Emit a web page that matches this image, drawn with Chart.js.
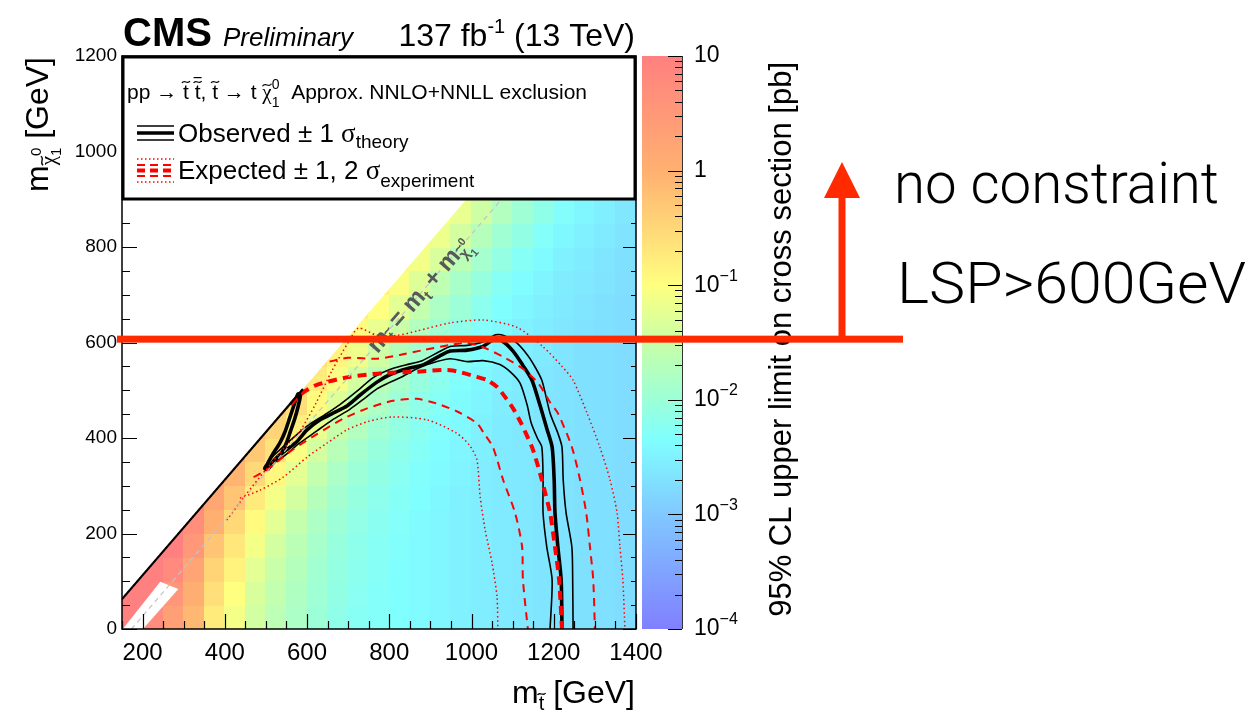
<!DOCTYPE html>
<html><head><meta charset="utf-8">
<script src="https://cdn.jsdelivr.net/npm/chart.js@4.4.1/dist/chart.umd.min.js"></script>
<style>html,body{margin:0;padding:0;background:#fff;overflow:hidden}canvas{display:block}</style>
</head><body><canvas id="c" width="1253" height="716"></canvas>
<script>
// ---------------- data (GeV, pb) ----------------
const xTicks = [200, 400, 600, 800, 1000, 1200, 1400];
const yTicks = [0, 200, 400, 600, 800, 1000, 1200];
const zDecades = [-4, -3, -2, -1, 0, 1];
const N = null;
// 95% CL upper limit, log10(pb), 50 GeV bins: rows = m_LSP 0..900, cols = m_stop 150..1400
const limitGridLog10 = [
 [1.0,0.75,0.35,-0.1,-0.75,-1.1,-1.42,-1.63,-1.82,-2.0,-2.15,-2.25,-2.3,-2.35,-2.4,-2.45,-2.5,-2.55,-2.6,-2.62,-2.65,-2.68,-2.7,-2.72,-2.75],
 [1.0,1.0,0.55,0.05,-0.6,-1.0,-1.35,-1.57,-1.78,-1.97,-2.12,-2.23,-2.3,-2.35,-2.4,-2.45,-2.5,-2.55,-2.6,-2.62,-2.65,-2.68,-2.7,-2.72,-2.75],
 [1.0,1.0,0.8,0.25,-0.45,-0.85,-1.25,-1.5,-1.72,-1.93,-2.09,-2.2,-2.28,-2.35,-2.4,-2.45,-2.5,-2.55,-2.6,-2.62,-2.65,-2.68,-2.7,-2.72,-2.75],
 [N,1.0,1.0,0.5,-0.25,-0.7,-1.1,-1.4,-1.65,-1.87,-2.05,-2.17,-2.25,-2.33,-2.4,-2.45,-2.5,-2.55,-2.6,-2.62,-2.65,-2.68,-2.7,-2.72,-2.75],
 [N,N,1.0,0.7,0.0,-0.5,-0.95,-1.25,-1.55,-1.8,-1.99,-2.13,-2.22,-2.3,-2.38,-2.45,-2.5,-2.55,-2.6,-2.62,-2.65,-2.68,-2.7,-2.72,-2.75],
 [N,N,N,0.85,0.2,-0.25,-0.75,-1.1,-1.4,-1.7,-1.92,-2.07,-2.18,-2.27,-2.35,-2.43,-2.5,-2.55,-2.6,-2.62,-2.65,-2.68,-2.7,-2.72,-2.75],
 [N,N,N,N,0.35,-0.05,-0.5,-0.9,-1.25,-1.55,-1.82,-2.0,-2.12,-2.23,-2.32,-2.4,-2.48,-2.55,-2.6,-2.62,-2.65,-2.68,-2.7,-2.72,-2.75],
 [N,N,N,N,N,0.1,-0.3,-0.65,-1.05,-1.4,-1.67,-1.9,-2.05,-2.17,-2.28,-2.37,-2.45,-2.53,-2.6,-2.62,-2.65,-2.68,-2.7,-2.72,-2.75],
 [N,N,N,N,N,N,-0.15,-0.45,-0.8,-1.2,-1.52,-1.75,-1.95,-2.1,-2.22,-2.33,-2.42,-2.5,-2.58,-2.62,-2.65,-2.68,-2.7,-2.72,-2.75],
 [N,N,N,N,N,N,N,-0.3,-0.6,-0.95,-1.32,-1.6,-1.8,-2.0,-2.15,-2.27,-2.38,-2.47,-2.55,-2.6,-2.65,-2.68,-2.7,-2.72,-2.75],
 [N,N,N,N,N,N,N,N,-0.45,-0.75,-1.07,-1.4,-1.65,-1.85,-2.05,-2.2,-2.32,-2.43,-2.52,-2.57,-2.63,-2.68,-2.7,-2.72,-2.75],
 [N,N,N,N,N,N,N,N,N,-0.6,-0.87,-1.15,-1.45,-1.7,-1.9,-2.1,-2.25,-2.37,-2.48,-2.54,-2.6,-2.66,-2.7,-2.72,-2.75],
 [N,N,N,N,N,N,N,N,N,N,-0.72,-0.95,-1.2,-1.5,-1.75,-1.95,-2.15,-2.3,-2.42,-2.5,-2.57,-2.63,-2.68,-2.72,-2.75],
 [N,N,N,N,N,N,N,N,N,N,N,-0.8,-1.0,-1.25,-1.55,-1.8,-2.0,-2.2,-2.35,-2.44,-2.53,-2.6,-2.65,-2.7,-2.75],
 [N,N,N,N,N,N,N,N,N,N,N,N,-0.85,-1.05,-1.3,-1.6,-1.85,-2.05,-2.25,-2.37,-2.47,-2.56,-2.62,-2.67,-2.73],
 [N,N,N,N,N,N,N,N,N,N,N,N,N,-0.9,-1.1,-1.35,-1.65,-1.9,-2.1,-2.27,-2.4,-2.5,-2.58,-2.64,-2.7],
 [N,N,N,N,N,N,N,N,N,N,N,N,N,N,-0.95,-1.15,-1.4,-1.7,-1.95,-2.12,-2.3,-2.43,-2.52,-2.6,-2.67],
 [N,N,N,N,N,N,N,N,N,N,N,N,N,N,N,-1.0,-1.2,-1.45,-1.75,-1.97,-2.15,-2.33,-2.45,-2.54,-2.63]
];
const gridStopStart = 150, gridLspStart = 0, gridBin = 50;
const scannedDeltaM = 87.5;          // lowest m_stop - m_LSP in the scan
const topMass = 173;                 // m_t
const noDataBand = [[152,0],[201,0],[287,84],[243,99]];
const kinematicLine = [[173,0],[1373,1200]];
const diagonalEdge = [[150,62.5],[590,502.5]];

const obsCentral = [[503,333],[517,350],[530,362],[545,372],[575,392],[600,417],[632,438],[663,452],[697,467],[729,490],[770,517],[802,533],[843,545],[882,553],[923,572],[948,582],[989,584],[1028,592],[1052,605],[1075,603],[1101,582],[1125,552],[1147,521],[1166,470],[1183,420],[1196,381],[1201,312],[1203,243],[1210,172],[1218,103],[1220,0]];
const obsSpike = [[503,333],[520,350],[538,368],[550,390],[560,415],[570,440],[578,465],[584,490],[578,492],[568,468],[557,440],[546,412],[534,390],[518,368],[503,345],[497,336],[503,333]];
const obsUp = [[515,360],[555,392],[600,425],[640,447],[680,470],[720,497],[760,526],[800,543],[840,553],[880,562],[920,580],[950,592],[990,594],[1030,602],[1058,616],[1080,614],[1110,599],[1135,575],[1149,557],[1171,521],[1191,452],[1210,410],[1220,381],[1223,312],[1230,243],[1244,172],[1246,103],[1247,0]];
const obsDown = [[500,340],[541,360],[580,388],[624,415],[660,437],[704,460],[740,483],[770,503],[800,516],[826,526],[870,546],[916,560],[948,566],[990,560],[1028,562],[1069,554],[1095,538],[1118,515],[1135,470],[1145,432],[1160,400],[1171,381],[1174,312],[1174,243],[1183,172],[1196,103],[1191,0]];
const expCentral = [[560,470],[585,492],[620,510],[660,520],[704,528],[785,536],[850,538],[948,542],[1013,528],[1038,521],[1062,507],[1085,482],[1101,462],[1120,432],[1147,381],[1160,346],[1171,312],[1191,243],[1203,172],[1213,103],[1220,0]];
const expM1 = [[470,318],[500,332],[527,350],[566,376],[624,408],[687,440],[746,462],[809,478],[867,482],[916,472],[964,456],[1013,431],[1030,410],[1052,381],[1077,312],[1106,243],[1123,172],[1125,103],[1137,0]];
const expP1 = [[655,560],[700,568],[770,566],[826,574],[882,584],[948,595],[989,599],[1028,590],[1077,570],[1125,545],[1162,515],[1191,475],[1210,452],[1244,381],[1264,312],[1279,243],[1288,172],[1296,103],[1300,0]];
const expM2 = [[437,274],[486,291],[542,318],[600,360],[648,389],[697,417],[750,435],[809,444],[892,438],[964,410],[995,385],[1013,355],[1021,277],[1033,208],[1050,138],[1062,68],[1064,0]];
const expP2 = [[405,228],[450,280],[505,339],[545,380],[583,415],[620,470],[660,540],[700,600],[725,630],[770,615],[820,615],[867,624],[948,641],[1028,647],[1110,632],[1174,591],[1220,550],[1247,521],[1281,452],[1312,381],[1337,312],[1354,243],[1361,172],[1368,103],[1373,0]];
const annotLSP = 607;

// ---------------- styling ----------------
const SANS = '"Liberation Sans", Arial, Helvetica, sans-serif';
const SERIF = '"Liberation Serif", "Times New Roman", serif';
const palette = [[-4,'#8080ff'],[-3,'#80c8ff'],[-2.35,'#80ffff'],[-2,'#9cffd8'],[-1.5,'#c8ffa8'],[-1,'#ffff80'],[0,'#ffb070'],[1,'#ff8080']];
const ANN = '#ff2a00';

function hex2rgb(h){return [parseInt(h.substr(1,2),16),parseInt(h.substr(3,2),16),parseInt(h.substr(5,2),16)];}
function colorFor(v){
  if (v <= palette[0][0]) return palette[0][1];
  for (let i=1;i<palette.length;i++){
    if (v <= palette[i][0]){
      const [a,ca]=palette[i-1],[b,cb]=palette[i];
      const t=(v-a)/(b-a), A=hex2rgb(ca), B=hex2rgb(cb);
      return 'rgb('+A.map((q,k)=>Math.round(q+(B[k]-q)*t)).join(',')+')';
    }
  }
  return palette[palette.length-1][1];
}
const xy = a => a.map(([x,y])=>({x,y}));
function line(data, color, width, dash){
  return {data: xy(data), showLine:true, borderColor:color, borderWidth:width, borderDash:dash||[], pointRadius:0, fill:false, tension:0.25, borderCapStyle:'butt', borderJoinStyle:'round'};
}

// ---------------- rich text helpers ----------------
function runW(ctx,r){ctx.font=r.f;return ctx.measureText(r.t).width;}
function drawTilde(ctx,cx,cy,w,lw){
  const h=w*0.22;
  ctx.save();ctx.lineWidth=lw;ctx.strokeStyle=ctx.fillStyle;ctx.beginPath();
  ctx.moveTo(cx-w/2,cy+h*0.6);
  ctx.bezierCurveTo(cx-w/4,cy-h*1.6,cx+w/4,cy+h*1.6,cx+w/2,cy-h*0.6);
  ctx.stroke();ctx.restore();
}
function drawRich(ctx,x,y,runs,align){
  let total=0;
  for(const r of runs) if(!r.stack) total+=runW(ctx,r)+(r.gap||0);
  let cx = align==='right'?x-total:align==='center'?x-total/2:x;
  for(const r of runs){
    const w=runW(ctx,r), yy=y+(r.dy||0);
    ctx.fillText(r.t,cx,yy);
    if(r.tilde) drawTilde(ctx,cx+w/2+(r.tx||0),yy-r.tilde,r.tw||w*0.9,r.lw||1.2);
    if(r.bar) ctx.fillRect(cx+w/2-(r.bw||w*0.9)/2+(r.tx||0),yy-r.bar,(r.bw||w*0.9),r.lw||1.2);
    if(!r.stack) cx+=w+(r.gap||0);
  }
  return total;
}
function fitText(ctx,text,x,y,width){
  const w=ctx.measureText(text).width;
  ctx.save(); ctx.translate(x,y); ctx.scale(width/w,1); ctx.fillText(text,0,0); ctx.restore();
}

// ---------------- plugins ----------------
const bgPlugin = {id:'bg', beforeDraw(c){const g=c.ctx;g.save();g.fillStyle='#fff';g.fillRect(0,0,c.width,c.height);g.restore();}};

const heatPlugin = {id:'heat', beforeDatasetsDraw(chart){
  const {ctx, chartArea:a, scales:{x,y}} = chart;
  ctx.save();
  ctx.beginPath(); ctx.rect(a.left,a.top,a.width,a.height); ctx.clip();
  ctx.beginPath();
  const P=(X,Y)=>[x.getPixelForValue(X),y.getPixelForValue(Y)];
  ctx.moveTo(...P(gridStopStart,0)); ctx.lineTo(...P(1400,0));
  ctx.lineTo(...P(1400,1400-scannedDeltaM)); ctx.lineTo(...P(gridStopStart,gridStopStart-scannedDeltaM));
  ctx.closePath(); ctx.clip();
  limitGridLog10.forEach((row,r)=>row.forEach((v,c)=>{
    if(v===null) return;
    const x0=gridStopStart+c*gridBin, y0=gridLspStart+r*gridBin;
    const L=Math.floor(x.getPixelForValue(x0)), R=Math.ceil(x.getPixelForValue(x0+gridBin));
    const T=Math.floor(y.getPixelForValue(y0+gridBin)), B=Math.ceil(y.getPixelForValue(y0));
    ctx.fillStyle=colorFor(v); ctx.fillRect(L,T,R-L,B-T);
  }));
  ctx.fillStyle='#fff'; ctx.beginPath();
  noDataBand.forEach(([X,Y],i)=>{const p=P(X,Y); i?ctx.lineTo(...p):ctx.moveTo(...p);});
  ctx.closePath(); ctx.fill();
  ctx.restore();
}};

const decoPlugin = {id:'deco', afterDatasetsDraw(chart){
  const {ctx, chartArea:a, scales:{x,y,z}} = chart;
  ctx.save();
  // diagonal label m_stop = m_t + m_LSP
  {
    const X=872, Y=X-topMass;
    const px=x.getPixelForValue(X), py=y.getPixelForValue(Y);
    const ang=Math.atan2(y.getPixelForValue(100)-y.getPixelForValue(0), x.getPixelForValue(100)-x.getPixelForValue(0));
    ctx.translate(px,py); ctx.rotate(ang);
    ctx.fillStyle='#585858'; ctx.textBaseline='alphabetic';
    drawRich(ctx,0,7,[
      {t:'m',f:'bold 24px '+SANS},
      {t:'t',f:'bold 15px '+SANS,dy:5,tilde:13,tw:7,lw:1.4},
      {t:' = m',f:'bold 24px '+SANS},
      {t:'t',f:'bold 15px '+SANS,dy:5},
      {t:' + m',f:'bold 24px '+SANS},
      {t:'χ',f:'bold 15px '+SANS,dy:5,tilde:13,tw:7,lw:1.4},
      {t:'0',f:'bold 11px '+SANS,dy:-6,stack:true},
      {t:'1',f:'bold 11px '+SANS,dy:11}
    ],'center');
    ctx.setTransform(1,0,0,1,0,0);
  }
  // frame
  ctx.strokeStyle='#000'; ctx.lineWidth=1.5;
  ctx.strokeRect(a.left,a.top,a.width,a.height);
  // ticks
  ctx.lineWidth=1.2; ctx.beginPath();
  for(let v=150; v<=1400; v+=50){
    const p=Math.round(x.getPixelForValue(v))+0.5, major=xTicks.includes(v);
    ctx.moveTo(p,a.bottom); ctx.lineTo(p,a.bottom-(major?15:8));
  }
  for(let v=0; v<=1200; v+=50){
    const p=Math.round(y.getPixelForValue(v))+0.5, major=yTicks.includes(v);
    ctx.moveTo(a.left,p); ctx.lineTo(a.left+(major?15:8),p);
    ctx.moveTo(a.right,p); ctx.lineTo(a.right-(major?13:5),p);
  }
  ctx.stroke();
  // colour bar
  const cbL=642, cbR=682, top=z.getPixelForValue(10), bot=z.getPixelForValue(1e-4);
  const grad=ctx.createLinearGradient(0,bot,0,top);
  palette.forEach(([v,c])=>{grad.addColorStop((z.getPixelForValue(Math.pow(10,v))-bot)/(top-bot),c);});
  ctx.fillStyle=grad; ctx.fillRect(cbL,top,cbR-cbL,bot-top);
  ctx.strokeStyle='#333'; ctx.lineWidth=1; ctx.beginPath(); ctx.moveTo(cbR+0.5,top); ctx.lineTo(cbR+0.5,bot); ctx.stroke();
  ctx.strokeStyle='#000'; ctx.beginPath();
  zDecades.forEach(d=>{
    const p=Math.round(z.getPixelForValue(Math.pow(10,d)))+0.5;
    ctx.moveTo(cbR,p); ctx.lineTo(cbR-14,p);
    if(d<1) for(let m=2;m<=9;m++){const q=Math.round(z.getPixelForValue(m*Math.pow(10,d)))+0.5; ctx.moveTo(cbR,q); ctx.lineTo(cbR-7,q);}
  });
  ctx.stroke();
  ctx.fillStyle='#000'; ctx.textBaseline='middle';
  zDecades.forEach(d=>{
    const p=z.getPixelForValue(Math.pow(10,d));
    if(d===1) drawRich(ctx,694,p,[{t:'10',f:'23px '+SANS}]);
    else if(d===0) drawRich(ctx,694,p,[{t:'1',f:'23px '+SANS}]);
    else drawRich(ctx,694,p,[{t:'10',f:'23px '+SANS},{t:'\u2212'+(-d),f:'16px '+SANS,dy:-9}]);
  });
  // legend box
  ctx.fillStyle='#fff'; ctx.fillRect(a.left,a.top,a.width,143);
  ctx.strokeStyle='#000'; ctx.lineWidth=3; ctx.strokeRect(a.left+1,a.top+1,a.width-2,142);
  ctx.fillStyle='#000'; ctx.textBaseline='alphabetic';
  const F1='21px '+SANS;
  drawRich(ctx,127,99,[
    {t:'pp ',f:F1},{t:'\u2192',f:F1},{t:' ',f:F1},
    {t:'t',f:F1,tilde:17,tw:8,lw:1.2},{t:' ',f:F1},
    {t:'t',f:F1,tilde:17,tw:8,lw:1.2,bar:22,bw:8},{t:', ',f:F1},
    {t:'t',f:F1,tilde:17,tw:8,lw:1.2},{t:' \u2192 t ',f:F1},
    {t:'\u03C7',f:'21px '+SERIF,tilde:14,tw:9,lw:1.2},
    {t:'0',f:'14px '+SANS,dy:-10,stack:true},{t:'1',f:'14px '+SANS,dy:8},
    {t:'  Approx. NNLO+NNLL exclusion',f:F1}
  ]);
  // observed symbol
  ctx.strokeStyle='#000'; ctx.setLineDash([]);
  [[126,1.6],[133,3.6],[140,1.6]].forEach(([yy,w])=>{ctx.lineWidth=w;ctx.beginPath();ctx.moveTo(137,yy);ctx.lineTo(174,yy);ctx.stroke();});
  drawRich(ctx,178,142,[{t:'Observed \u00B1 1 ',f:'26px '+SANS},{t:'\u03C3',f:'27px '+SERIF},{t:'theory',f:'19px '+SANS,dy:6}]);
  // expected symbol
  ctx.strokeStyle='#ff0000';
  [[159,1.5,[1.5,2.5]],[165,2,[8,5]],[170.5,4,[8,5]],[176,2,[8,5]],[182,1.5,[1.5,2.5]]].forEach(([yy,w,d])=>{ctx.lineWidth=w;ctx.setLineDash(d);ctx.beginPath();ctx.moveTo(137,yy);ctx.lineTo(174,yy);ctx.stroke();});
  ctx.setLineDash([]);
  drawRich(ctx,178,179,[{t:'Expected \u00B1 1, 2 ',f:'26px '+SANS},{t:'\u03C3',f:'27px '+SERIF},{t:'experiment',f:'19px '+SANS,dy:8}]);
  // header
  drawRich(ctx,123,46,[{t:'CMS',f:'bold 40px '+SANS}]);
  drawRich(ctx,223,46,[{t:'Preliminary',f:'italic 26px '+SANS}]);
  drawRich(ctx,635,46,[{t:'137 fb',f:'32px '+SANS},{t:'-1',f:'20px '+SANS,dy:-13},{t:' (13 TeV)',f:'32px '+SANS}],'right');
  // x title
  drawRich(ctx,635,703,[{t:'m',f:'32px '+SANS},{t:'t',f:'20px '+SANS,dy:7,tilde:16,tw:8,lw:1.3},{t:' [GeV]',f:'32px '+SANS}],'right');
  // y title (rotated)
  ctx.translate(48,57); ctx.rotate(-Math.PI/2);
  drawRich(ctx,0,0,[{t:'m',f:'32px '+SANS},{t:'\u03C7',f:'21px '+SERIF,dy:7,tilde:13,tw:9,lw:1.3},{t:'0',f:'15px '+SANS,dy:-7,stack:true},{t:'1',f:'15px '+SANS,dy:13},{t:' [GeV]',f:'32px '+SANS}],'right');
  ctx.setTransform(1,0,0,1,0,0);
  // colour-bar title
  ctx.translate(791,62); ctx.rotate(-Math.PI/2);
  drawRich(ctx,0,0,[{t:'95% CL upper limit on cross section [pb]',f:'31px '+SANS}],'right');
  ctx.setTransform(1,0,0,1,0,0);
  ctx.restore();
}, afterDraw(chart){
  const {ctx, scales:{y}} = chart;
  ctx.save();
  const ly=y.getPixelForValue(annotLSP);
  ctx.fillStyle=ANN;
  ctx.fillRect(117,ly-3.5,903-117,7);
  ctx.fillRect(838.5,196,7,ly-196);
  ctx.beginPath(); ctx.moveTo(824,198); ctx.lineTo(860,198); ctx.lineTo(842,162); ctx.closePath(); ctx.fill();
  ctx.fillStyle='#000'; ctx.textBaseline='alphabetic';
  ctx.font='300 57px Roboto, "Liberation Sans", sans-serif';
  fitText(ctx,'no constraint',894,203,325);
  fitText(ctx,'LSP>600GeV',897,303,349);
  ctx.restore();
}};

const ctx=document.getElementById('c').getContext('2d');
new Chart(ctx,{
  type:'scatter',
  data:{datasets:[
    line(kinematicLine,'#c4c4c4',1.2,[5,4]),
    line(diagonalEdge,'#000',2.2),
    line(diagonalEdge,'#ff0000',1.6,[2,2.5]),
    line(expP2,'#ff0000',1.5,[1.5,2.8]),
    line(expM2,'#ff0000',1.5,[1.5,2.8]),
    line(expP1,'#ff0000',2,[8,6]),
    line(expM1,'#ff0000',2,[8,6]),
    line(expCentral,'#ff0000',4,[9,6]),
    line(obsUp,'#000',1.6),
    line(obsDown,'#000',1.6),
    line(obsCentral,'#000',3.6),
    line(obsSpike,'#000',3.6)
  ]},
  options:{
    responsive:false, animation:false, devicePixelRatio:1,
    layout:{padding:{left:0,top:56,right:617,bottom:0}},
    plugins:{legend:{display:false},tooltip:{enabled:false}},
    scales:{
      x:{type:'linear',min:150,max:1400,position:'bottom',
         grid:{display:false,drawTicks:false},border:{display:false},
         ticks:{color:'#000',font:{family:SANS,size:24},padding:10,autoSkip:false,maxRotation:0,callback:v=>String(v)},
         afterBuildTicks:s=>{s.ticks=xTicks.map(v=>({value:v}));},
         afterFit:s=>{s.height=87;}},
      y:{type:'linear',min:0,max:1200,position:'left',
         grid:{display:false,drawTicks:false},border:{display:false},
         ticks:{color:'#000',font:{family:SANS,size:19},padding:5,autoSkip:false,callback:v=>String(v)},
         afterBuildTicks:s=>{s.ticks=yTicks.map(v=>({value:v}));},
         afterFit:s=>{s.width=122;}},
      z:{type:'logarithmic',min:1e-4,max:10,position:'right',display:false}
    }
  },
  plugins:[bgPlugin,heatPlugin,decoPlugin]
});
</script></body></html>
